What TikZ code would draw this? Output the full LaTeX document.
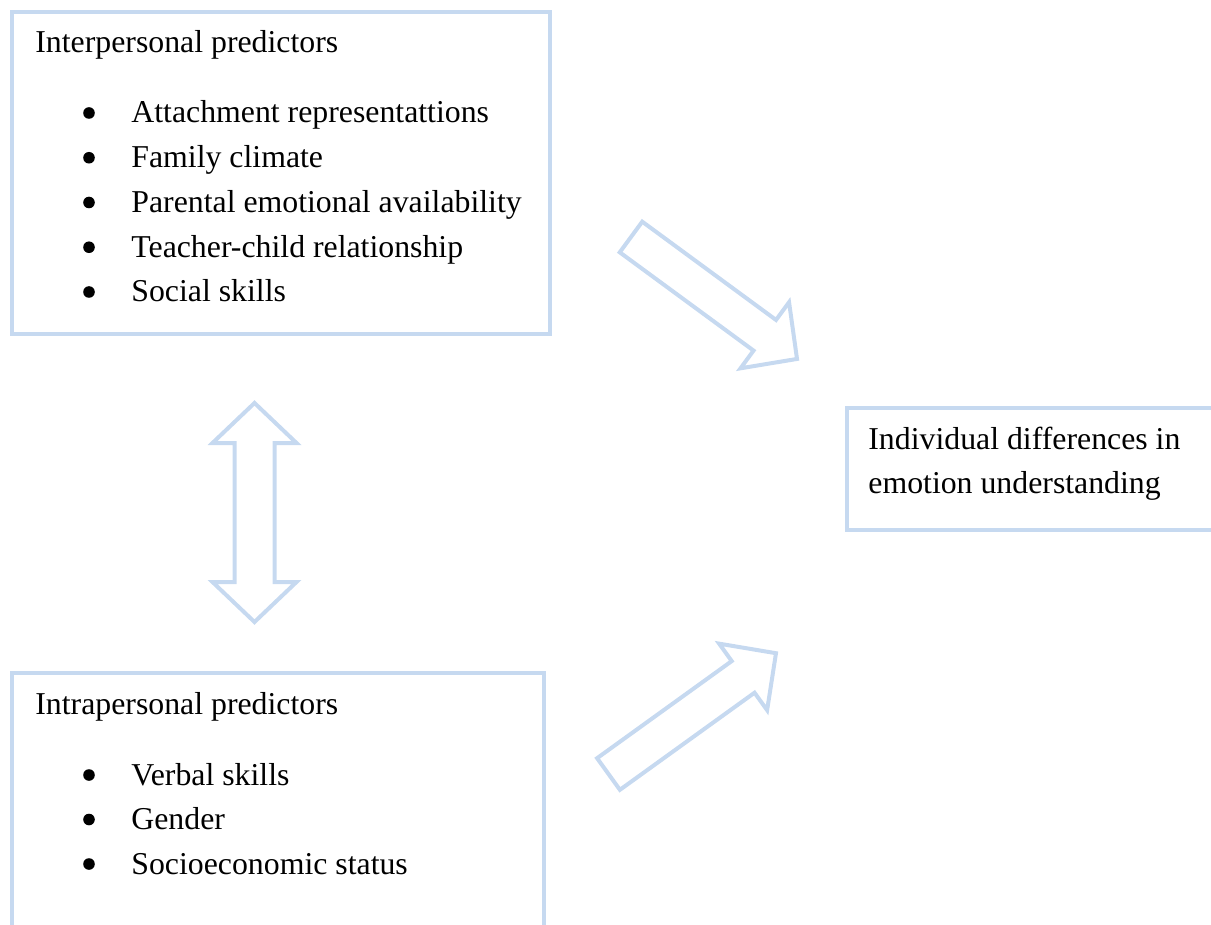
\documentclass[tikz,border=0pt]{standalone}
\usepackage{fontspec}
\setmainfont{Liberation Serif}
\usetikzlibrary{positioning}
\definecolor{boxblue}{RGB}{198,217,240}

\begin{document}
\begin{tikzpicture}[x=0.5pt, y=-0.5pt,
      predbox/.style={draw=boxblue, line width=2.25pt, anchor=north west,
        inner sep=0pt, outer sep=0pt},
      ptext/.style={anchor=base west, inner sep=0pt,
        font=\fontsize{15.9}{19}\selectfont},
      blockarrow/.style={draw=boxblue, line width=2pt, line join=miter}]
    \useasboundingbox (0,0) rectangle (1211,925);
    % boxes
    \node[predbox, minimum width=269pt, minimum height=161pt] (inter) at (12,12) {};
    \node[predbox, minimum width=266pt, minimum height=127.5pt] (intra) at (12,673) {};
    \node[predbox, minimum width=189pt, minimum height=61pt] (indiv) at (847,408) {};
    % texts
    \node[ptext] (intertitle) at (35,53) {Interpersonal predictors};
    \foreach \t [count=\i] in {Attachment representattions, Family climate,
        Parental emotional availability, Teacher-child relationship, Social skills} {
      \node[ptext] (ip\i) at (131,{123+(\i-1)*44.75}) {\t};
      \fill (89,{113+(\i-1)*44.75}) circle (2.9pt);
    }
    \node[ptext] (intratitle) at (35,714) {Intrapersonal predictors};
    \foreach \t [count=\i] in {Verbal skills, Gender, Socioeconomic status} {
      \node[ptext] (ap\i) at (131,{785+(\i-1)*44.5}) {\t};
      \fill (89,{775+(\i-1)*44.5}) circle (2.9pt);
    }
    \node[ptext] (indiv1) at (868,450) {Individual differences in};
    \node[ptext] (indiv2) at (868,494) {emotion understanding};
    % block arrows
    \coordinate (a1) at (631,237);
    \coordinate (a2) at (608.5,774);
    \coordinate (a3) at (254.5,512.5);
    \draw[blockarrow, shift={(a1)}, rotate=-36.3]
      (0,-19) -- (166,-19) -- (166,-41) -- (206,0) -- (166,41) -- (166,19) -- (0,19) -- cycle;
    \draw[blockarrow, shift={(a2)}, rotate=35.8]
      (0,-19.5) -- (166,-19.5) -- (166,-41) -- (206.5,0) -- (166,41) -- (166,19.5) -- (0,19.5) -- cycle;
    \draw[blockarrow, shift={(a3)}]
      (0,-109.5) -- (42,-69.5) -- (20,-69.5) -- (20,69.5) -- (42,69.5) -- (0,109.5)
      -- (-42,69.5) -- (-20,69.5) -- (-20,-69.5) -- (-42,-69.5) -- cycle;
  \end{tikzpicture}
\end{document}
